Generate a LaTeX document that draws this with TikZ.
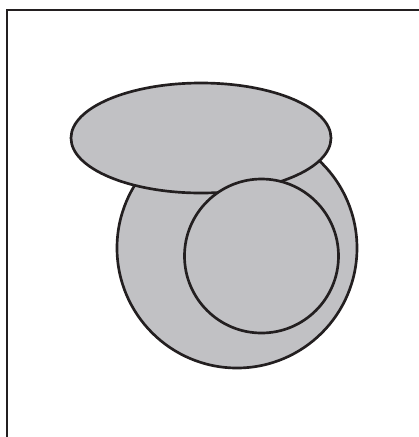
\documentclass[tikz,border=0pt]{standalone}
\definecolor{shapegray}{RGB}{193,193,196}
\definecolor{inkdark}{RGB}{35,31,32}
\tikzset{
  % filled shapes
  blob/.style={fill=shapegray, draw=inkdark, line width=1.9pt},
  % frame edges
  frameline/.style={draw=inkdark, line width=2pt},
}
\begin{document}
\begin{tikzpicture}[x=0.025cm, y=-0.025cm]
  \useasboundingbox (0,0) rectangle (419,437);

  %% -- frame (top and left edges only) --
  \coordinate (frameTL) at (7,10);
  \coordinate (frameTR) at (419,10);
  \coordinate (frameBL) at (7,437);
  \draw[frameline] (frameTR) -- (frameTL) -- (frameBL);

  %% -- shapes, back to front --
  \draw[blob] (237,248) circle (120);
  \draw[blob] (201,138) ellipse (130 and 55);
  \draw[blob] (261.5,256) circle (77);

\end{tikzpicture}
\end{document}
